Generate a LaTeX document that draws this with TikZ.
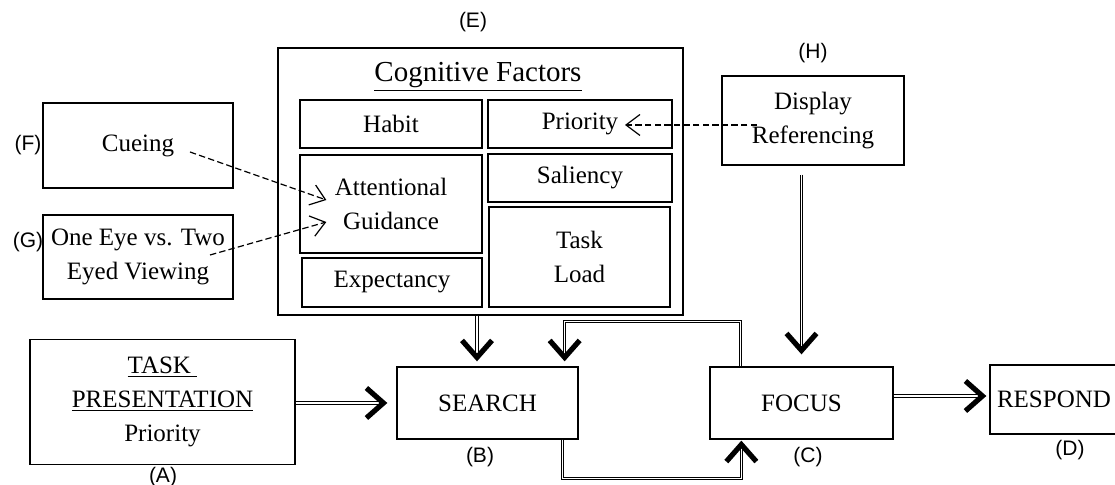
\documentclass[tikz,border=0pt]{standalone}
\usepackage{fontspec}
\setmainfont{Liberation Serif}
\setsansfont{Liberation Sans}
\usetikzlibrary{arrows.meta,decorations.markings}

\tikzset{flow/.style={double, double distance=0.7pt, line width=0.45pt, shorten >=#1+2.5pt,
    postaction={decorate, decoration={markings, mark=at position -#1 with
      {\pgfsetinnerlinewidth{0pt}\arrow{Straight Barb[length=8.5pt,width=15pt,line width=2.6pt]}}}}},
  flow/.default=2.5pt}

\begin{document}
\begin{tikzpicture}[x=0.5pt, y=-0.5pt, line width=0.65pt,
  every node/.style={font=\fontsize{12.5}{17}\selectfont, align=center}]

\tikzstyle{box}=[draw, rectangle, inner sep=0pt]
\tikzstyle{tag}=[font=\sffamily\fontsize{10.5}{12}\selectfont]
\tikzstyle{cue}=[dash pattern=on 3.2pt off 1.6pt, line width=0.6pt, -{Straight Barb[length=7pt,width=10.5pt]}]

\useasboundingbox (0,0) rectangle (1115,485);

% cognitive factors group
\node[box, minimum width=202.5pt, minimum height=133.5pt] (cog) at (480.5,181.5) {};
\node (cogtitle) at (478,77) {\fontsize{14.5}{17}\selectfont\underline{Cognitive Factors}};
\node[box, minimum width=91pt, minimum height=24pt] (habit) at (391,124) {Habit};
\node[box, minimum width=92pt, minimum height=24pt] (prio) at (580,124) {Priority};
\node[box, minimum width=91pt, minimum height=49pt] (attn) at (391,204) {Attentional\\Guidance};
\node[box, minimum width=92pt, minimum height=24pt] (sal) at (580,178) {Saliency};
\node[box, minimum width=90.5pt, minimum height=50pt] (load) at (579.5,257) {Task\\Load};
\node[box, minimum width=90pt, minimum height=24.5pt] (expt) at (392,282.5) {Expectancy};

% outside influences
\node[box, minimum width=95pt, minimum height=42.5pt] (cue) at (138,145.5) {Cueing};
\node[box, minimum width=95pt, minimum height=42pt] (eye) at (138,257) {One Eye vs. Two\\Eyed Viewing};
\node[box, minimum width=91pt, minimum height=44.5pt] (disp) at (813,120.5) {Display\\Referencing};

% main stages
\node[box, minimum width=132.5pt, minimum height=62.5pt] (task) at (162.5,402) {\underline{TASK\ }\\\underline{PRESENTATION}\\Priority};
\node[box, minimum width=90.5pt, minimum height=36pt] (search) at (487.5,403) {SEARCH};
\node[box, minimum width=91.5pt, minimum height=36pt] (focus) at (801.5,403) {FOCUS};
\node[box, minimum width=64pt, minimum height=34.5pt] (respond) at (1054,399.5) {RESPOND};

% letters
\node[tag] (tagE) at (473,22) {(E)};
\node[tag] (tagF) at (28,145) {(F)};
\node[tag] (tagG) at (28,242) {(G)};
\node[tag] (tagH) at (813,53) {(H)};
\node[tag] (tagA) at (163,477) {(A)};
\node[tag] (tagB) at (480,457) {(B)};
\node[tag] (tagC) at (808,457) {(C)};
\node[tag] (tagD) at (1070,450) {(D)};

% dashed influences
\draw[cue] ([xshift=26pt,yshift=-3.25pt]cue.center) -- ([xshift=13.5pt,yshift=2pt]attn.west);
\draw[cue] ([xshift=36pt,yshift=1pt]eye.center) -- ([xshift=13.5pt,yshift=-9pt]attn.west);
\draw[cue] ([xshift=-28pt,yshift=-2.25pt]disp.center) -- ([xshift=22.5pt,yshift=-0.5pt]prio.center);

% flow
\draw[flow=4.5pt] (task.east |- search.west) -- (search.west);
\draw[flow] ([xshift=-5.25pt]search.north |- cog.south) -- ([xshift=-5.25pt]search.north);
\draw[flow=6pt, shorten <=4.5pt] (disp.south -| focus.north) -- (focus.north);
\draw[flow] ([xshift=15.5pt]focus.north west) -- ++(0,-45) -| ([xshift=-7pt]search.north east);
\draw[flow=0.5pt] ([xshift=-8pt]search.south east) -- ++(0,39) -| ([xshift=16pt]focus.south west);
\draw[flow=1.5pt] ([yshift=3.5pt]focus.east) -- ([yshift=3.5pt]focus.east -| respond.west);
\end{tikzpicture}
\end{document}
